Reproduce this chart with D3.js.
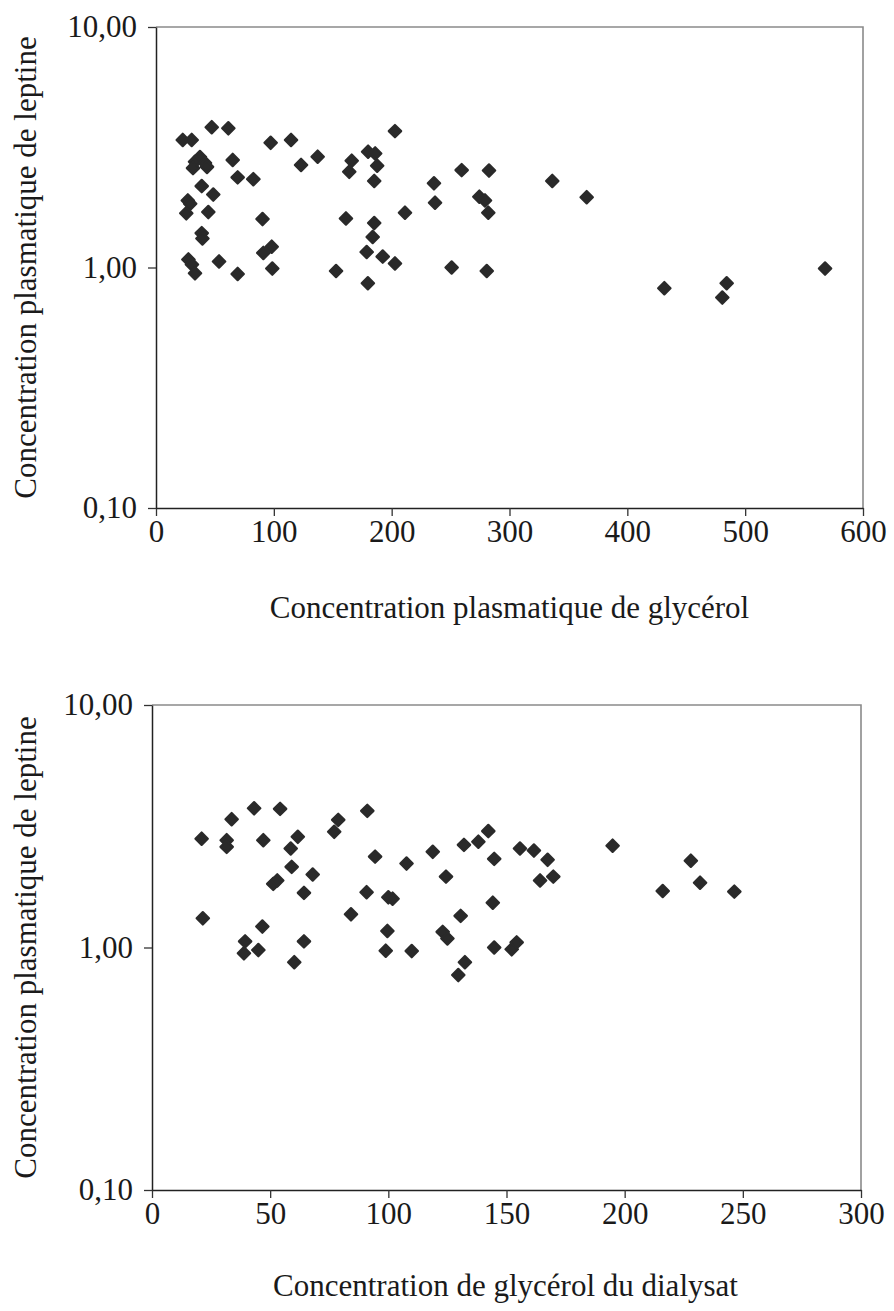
<!DOCTYPE html>
<html>
<head>
<meta charset="utf-8">
<script src="https://cdn.jsdelivr.net/npm/d3@7/dist/d3.min.js"></script>
<style>
  html, body { margin: 0; padding: 0; background: #fff; }
  svg text { font-family: "Liberation Serif", "Times New Roman", serif; fill: #1a1a1a; }
</style>
</head>
<body>
<svg id="chart" width="894" height="1311"></svg>
<script>
// ---- Data: chart 1 (plasma glycerol vs plasma leptin) ----
const glycerolPlasma = [22.7, 30.3, 47.3, 61.4, 97.3, 114.6, 202.8,
  37.3, 33.1, 41.6, 31.4, 43.3, 65.1, 69.3, 82.6, 123.1, 137.2, 166.1, 164.0,
  180.0, 186.0, 187.7, 185.2, 38.8, 48.6, 27.0, 29.0, 25.7, 44.4, 90.4, 161.2,
  185.2, 183.9, 38.8, 39.4, 98.2, 91.1, 178.8, 192.4, 202.8, 27.5, 30.5, 33.1,
  53.5, 69.3, 98.7, 152.8, 179.8, 259.4, 282.6, 235.9, 236.8, 211.3, 274.4,
  279.2, 282.0, 336.3, 365.5, 250.9, 280.7, 431.4, 484.3, 480.6, 567.8];
const leptinPlasma1 = [3.39, 3.39, 3.83, 3.79, 3.30, 3.39, 3.69,
  2.88, 2.75, 2.72, 2.59, 2.62, 2.80, 2.37, 2.33, 2.67, 2.89, 2.78, 2.50,
  3.03, 2.98, 2.65, 2.29, 2.18, 2.01, 1.90, 1.84, 1.68, 1.70, 1.59, 1.60,
  1.53, 1.34, 1.39, 1.32, 1.22, 1.15, 1.16, 1.11, 1.04, 1.08, 1.03, 0.946,
  1.06, 0.94, 0.99, 0.967, 0.86, 2.54, 2.53, 2.24, 1.86, 1.69, 1.97,
  1.90, 1.69, 2.29, 1.96, 1.00, 0.967, 0.82, 0.86, 0.75, 0.99];

// ---- Data: chart 2 (dialysate glycerol vs plasma leptin) ----
const glycerolDialysat = [43.2, 54.2, 33.7, 21.0, 31.6, 31.6, 47.1, 61.7, 58.7,
  59.1, 68.0, 51.3, 53.0, 64.3, 21.5, 46.7, 39.4, 38.9, 45.0, 64.3, 60.2,
  78.8, 77.1, 91.1, 94.4, 90.8, 100.0, 101.8, 84.2, 99.6, 98.9, 107.7, 109.9,
  142.3, 138.1, 132.0, 118.8, 124.4, 144.8, 155.7, 161.6, 167.4, 169.8, 164.2,
  194.9, 144.2, 130.6, 123.0, 125.0, 144.8, 152.2, 154.3, 132.4, 129.6,
  228.0, 216.1, 231.9, 246.4];
const leptinPlasma2 = [3.75, 3.73, 3.38, 2.81, 2.77, 2.60, 2.77, 2.86, 2.56,
  2.15, 2.00, 1.83, 1.89, 1.68, 1.32, 1.22, 1.06, 0.946, 0.976, 1.06, 0.87,
  3.36, 3.00, 3.66, 2.37, 1.69, 1.61, 1.59, 1.37, 1.17, 0.97, 2.22, 0.967,
  3.02, 2.73, 2.65, 2.48, 1.96, 2.32, 2.56, 2.51, 2.30, 1.96, 1.89,
  2.63, 1.53, 1.35, 1.16, 1.09, 1.00, 0.983, 1.05, 0.87, 0.77,
  2.28, 1.71, 1.85, 1.70];

// ---- Axis tick labels ----
const yTickValues = [0.1, 1, 10];
const yTickLabels = ["0,10", "1,00", "10,00"];
const xTicks1 = [0, 100, 200, 300, 400, 500, 600];
const xTicks2 = [0, 50, 100, 150, 200, 250, 300];
const yTitle = "Concentration plasmatique de leptine";
const xTitle1 = "Concentration plasmatique de glycérol";
const xTitle2 = "Concentration de glycérol du dialysat";

const svg = d3.select("#chart");
const FS = 31;

function drawChart(opt) {
  const g = svg.append("g");
  const x = d3.scaleLinear().domain(opt.xDomain).range([opt.left, opt.right]);
  const y = d3.scaleLog().domain([0.1, 10]).range([opt.bottom, opt.top]);

  // frame top and right (gray)
  g.append("path")
    .attr("d", `M${opt.left},${opt.top}H${opt.right}V${opt.bottom}`)
    .attr("fill", "none").attr("stroke", "#8a8a8a").attr("stroke-width", 1.6);

  // x axis
  const xa = g.append("g").attr("transform", `translate(0,${opt.bottom})`)
    .call(d3.axisBottom(x).tickValues(opt.xTicks).tickSize(8).tickSizeOuter(0).tickPadding(4).tickFormat(d3.format("d")));
  xa.select(".domain").attr("stroke", "#222").attr("stroke-width", 1.5);
  xa.selectAll(".tick line").attr("stroke", "#333").attr("stroke-width", 1.3);
  xa.selectAll("text").attr("font-size", FS).attr("font-family", "Liberation Serif").attr("fill", "#1a1a1a");

  // y axis
  const ya = g.append("g").attr("transform", `translate(${opt.left},0)`)
    .call(d3.axisLeft(y).tickValues(yTickValues).tickSize(8).tickSizeOuter(0).tickPadding(11)
      .tickFormat((d, i) => yTickLabels[yTickValues.indexOf(d)]));
  ya.select(".domain").attr("stroke", "#222").attr("stroke-width", 1.5);
  ya.selectAll(".tick line").attr("stroke", "#333").attr("stroke-width", 1.3);
  ya.selectAll("text").attr("font-size", FS).attr("font-family", "Liberation Serif").attr("fill", "#1a1a1a");

  // points
  const pts = opt.xs.map((v, i) => [v, opt.ys[i]]);
  g.append("g").selectAll("path").data(pts).join("path")
    .attr("d", "M0,-6.2L6.2,0L0,6.2L-6.2,0Z")
    .attr("transform", d => `translate(${x(d[0])},${y(d[1])})`)
    .attr("fill", "#2a2a2a").attr("stroke", "#2a2a2a")
    .attr("stroke-width", 2.2).attr("stroke-linejoin", "round");

  // titles
  g.append("text").attr("x", (opt.left + opt.right) / 2 + opt.xTitleShift).attr("y", opt.xTitleY)
    .attr("text-anchor", "middle").attr("font-size", FS).text(opt.xTitle);
  g.append("text")
    .attr("transform", `translate(${opt.yTitleX},${(opt.top + opt.bottom) / 2}) rotate(-90)`)
    .attr("text-anchor", "middle").attr("font-size", FS).text(yTitle);
}

drawChart({
  xDomain: [0, 600], xTicks: xTicks1, left: 156, right: 863, top: 27, bottom: 508,
  xs: glycerolPlasma, ys: leptinPlasma1, xTitle: xTitle1, xTitleY: 618, xTitleShift: 0, yTitleX: 36
});
drawChart({
  xDomain: [0, 300], xTicks: xTicks2, left: 152, right: 861, top: 705, bottom: 1190,
  xs: glycerolDialysat, ys: leptinPlasma2, xTitle: xTitle2, xTitleY: 1296, xTitleShift: -1, yTitleX: 36
});
</script>
</body>
</html>
